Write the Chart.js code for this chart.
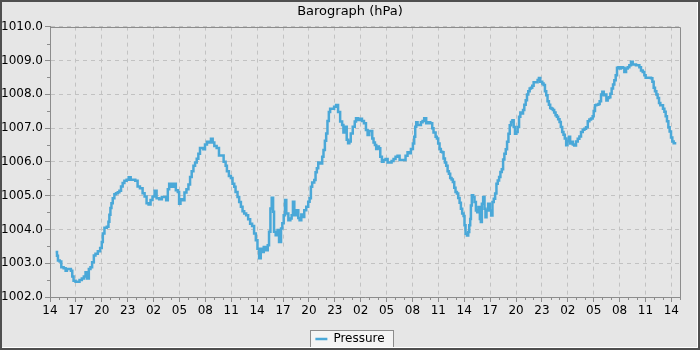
<!DOCTYPE html>
<html>
<head>
<meta charset="utf-8">
<script src="https://cdn.jsdelivr.net/npm/chart.js@4.4.1/dist/chart.umd.min.js"></script>
<style>
  html, body { margin: 0; padding: 0; background: #e6e6e6; }
  canvas { display: block; }
</style>
</head>
<body>
<canvas id="c" width="700" height="350"></canvas>
<script>
// ---------- data ----------
const chartTitle = 'Barograph (hPa)';
const seriesName = 'Pressure';
const xTickLabels = ['14','17','20','23','02','05','08','11','14','17','20','23','02','05','08','11','14','17','20','23','02','05','08','11','14'];
const xTickStepHours = 3;
const xRangeHours = [0, 73];
const yRange = [1002, 1010];

// hours since the first "14" tick
const hours = [
  0.65,0.81,0.92,1.12,1.31,1.58,1.81,1.96,2.19,2.42,2.58,2.73,2.96,3.23,3.42,3.69,3.92,4.12,4.27,4.50,
  4.69,4.88,5.08,5.27,5.54,5.81,6.00,6.12,6.31,6.58,6.77,6.88,7.00,7.12,7.27,7.46,7.65,7.85,8.04,8.23,
  8.42,8.62,8.88,9.12,9.35,9.58,9.88,10.15,10.42,10.73,10.96,11.19,11.42,11.65,11.88,12.12,12.35,12.65,12.96,13.27,
  13.46,13.65,13.81,14.04,14.31,14.58,14.81,14.96,15.12,15.35,15.58,15.81,16.04,16.23,16.42,16.62,16.81,17.00,17.19,17.38,
  17.58,17.77,17.96,18.19,18.42,18.65,18.85,19.04,19.31,19.58,19.88,20.12,20.35,20.50,20.73,20.96,21.15,21.35,21.50,21.73,
  21.92,22.12,22.31,22.50,22.73,22.96,23.19,23.42,23.65,23.85,24.04,24.23,24.42,24.58,24.77,25.00,25.23,25.38,25.54,25.69,
  25.85,25.96,26.15,26.38,26.54,26.77,26.92,27.08,27.23,27.38,27.62,27.85,28.00,28.15,28.31,28.54,28.77,28.92,29.12,29.31,
  29.46,29.69,29.92,30.08,30.23,30.38,30.62,30.77,30.92,31.08,31.31,31.54,31.69,31.85,32.00,32.15,32.31,32.46,32.69,32.92,
  33.15,33.38,33.62,33.85,34.00,34.15,34.38,34.54,34.69,34.85,35.08,35.31,35.46,35.69,35.92,36.15,36.38,36.61,36.80,37.00,
  37.19,37.34,37.49,37.65,37.80,37.96,38.11,38.27,38.46,38.65,38.88,39.12,39.35,39.58,39.81,40.04,40.27,40.51,40.74,40.97,
  41.20,41.43,41.66,41.82,42.05,42.20,42.32,42.44,42.59,42.82,42.98,43.17,43.36,43.59,43.83,44.06,44.29,44.44,44.68,44.83,
  44.98,45.14,45.29,45.45,45.60,45.76,45.91,46.07,46.22,46.37,46.53,46.68,46.84,46.99,47.15,47.30,47.46,47.61,47.76,47.92,
  48.03,48.15,48.31,48.46,48.58,48.69,48.77,48.88,49.04,49.19,49.35,49.50,49.65,49.81,49.92,50.04,50.19,50.35,50.46,50.58,
  50.77,50.96,51.12,51.27,51.42,51.58,51.73,51.88,52.04,52.19,52.35,52.50,52.65,52.81,52.96,53.12,53.27,53.42,53.58,53.73,
  53.88,54.04,54.19,54.35,54.50,54.65,54.81,54.96,55.12,55.27,55.42,55.58,55.73,55.88,56.04,56.27,56.50,56.65,56.81,57.04,
  57.19,57.35,57.50,57.65,57.81,57.96,58.12,58.27,58.42,58.58,58.73,58.88,59.04,59.19,59.35,59.50,59.65,59.81,59.96,60.12,
  60.27,60.42,60.58,60.75,60.95,61.15,61.34,61.53,61.73,61.92,62.11,62.31,62.50,62.69,62.88,63.00,63.15,63.31,63.54,63.69,
  63.85,64.00,64.16,64.31,64.47,64.62,64.78,64.93,65.08,65.24,65.39,65.55,65.70,65.86,66.01,66.17,66.36,66.55,66.75,66.94,
  67.13,67.32,67.52,67.71,67.90,68.09,68.29,68.48,68.68,68.87,69.02,69.18,69.41,69.64,69.80,69.95,70.10,70.26,70.41,70.57,
  70.72,70.88,71.03,71.19,71.34,71.49,71.65,71.80,71.96,72.11,72.27,72.42,72.57
];
const pressure = [
  1003.33,1003.22,1003.08,1003.05,1002.88,1002.85,1002.78,1002.83,1002.83,1002.78,1002.61,1002.48,1002.45,1002.45,1002.50,1002.55,1002.61,1002.73,1002.55,1002.83,
  1002.88,1003.03,1003.23,1003.28,1003.35,1003.45,1003.63,1003.88,1004.05,1004.08,1004.23,1004.43,1004.63,1004.77,1004.92,1005.04,1005.07,1005.10,1005.14,1005.27,
  1005.37,1005.44,1005.47,1005.54,1005.47,1005.47,1005.44,1005.27,1005.22,1005.07,1004.97,1004.77,1004.74,1004.87,1004.97,1005.14,1004.92,1004.89,1004.96,1004.96,
  1004.86,1005.19,1005.35,1005.26,1005.35,1005.16,1005.11,1004.76,1004.89,1004.86,1005.09,1005.19,1005.33,1005.55,1005.72,1005.88,1005.98,1006.09,1006.24,1006.41,
  1006.41,1006.37,1006.51,1006.59,1006.57,1006.68,1006.57,1006.47,1006.41,1006.19,1006.19,1006.00,1005.88,1005.72,1005.58,1005.52,1005.35,1005.26,1005.11,1004.96,
  1004.81,1004.67,1004.54,1004.47,1004.42,1004.30,1004.17,1004.10,1003.88,1003.68,1003.43,1003.15,1003.43,1003.33,1003.48,1003.38,1003.53,1003.93,1004.62,1004.94,
  1004.52,1003.93,1003.83,1003.98,1003.63,1004.03,1004.18,1004.42,1004.87,1004.47,1004.27,1004.32,1004.42,1004.82,1004.42,1004.57,1004.34,1004.27,1004.44,1004.37,
  1004.57,1004.67,1004.82,1004.92,1005.26,1005.39,1005.46,1005.69,1005.81,1005.98,1005.95,1006.15,1006.35,1006.62,1006.84,1007.21,1007.47,1007.57,1007.57,1007.63,
  1007.68,1007.47,1007.19,1007.09,1006.87,1007.04,1006.65,1006.55,1006.60,1006.84,1007.04,1007.19,1007.29,1007.24,1007.27,1007.21,1007.14,1006.94,1006.79,1006.91,
  1006.91,1006.69,1006.57,1006.50,1006.38,1006.45,1006.40,1006.15,1006.00,1006.05,1006.08,1005.98,1005.98,1006.02,1006.08,1006.15,1006.18,1006.05,1006.05,1006.05,
  1006.18,1006.28,1006.25,1006.38,1006.54,1006.74,1007.04,1007.17,1007.09,1007.09,1007.17,1007.21,1007.29,1007.14,1007.17,1007.14,1006.99,1006.87,1006.74,1006.69,
  1006.54,1006.38,1006.30,1006.28,1006.10,1005.98,1005.88,1005.72,1005.65,1005.52,1005.48,1005.40,1005.23,1005.11,1005.06,1004.93,1004.79,1004.61,1004.47,1004.40,
  1004.12,1003.87,1003.82,1003.92,1004.12,1004.31,1004.71,1005.01,1004.96,1004.81,1004.56,1004.51,1004.66,1004.31,1004.22,1004.76,1004.96,1004.61,1004.36,1004.56,
  1004.76,1004.56,1004.41,1004.81,1004.91,1005.06,1005.35,1005.45,1005.55,1005.70,1005.78,1006.07,1006.24,1006.37,1006.59,1006.83,1007.08,1007.18,1007.23,1007.03,
  1006.83,1006.88,1007.03,1007.33,1007.46,1007.43,1007.53,1007.69,1007.82,1007.99,1008.09,1008.17,1008.19,1008.25,1008.35,1008.35,1008.42,1008.48,1008.37,1008.32,
  1008.27,1008.09,1007.97,1007.79,1007.69,1007.59,1007.57,1007.53,1007.46,1007.38,1007.33,1007.26,1007.18,1007.03,1006.88,1006.80,1006.69,1006.49,1006.61,1006.74,
  1006.54,1006.59,1006.51,1006.48,1006.60,1006.68,1006.75,1006.88,1006.95,1006.98,1007.02,1007.20,1007.25,1007.28,1007.35,1007.50,1007.67,1007.69,1007.71,1007.79,
  1007.99,1008.07,1007.97,1007.99,1007.81,1007.89,1007.91,1008.01,1008.17,1008.29,1008.41,1008.56,1008.78,1008.80,1008.76,1008.80,1008.78,1008.66,1008.76,1008.80,
  1008.86,1008.96,1008.88,1008.88,1008.86,1008.86,1008.80,1008.70,1008.66,1008.56,1008.49,1008.49,1008.49,1008.47,1008.37,1008.19,1008.09,1007.99,1007.89,1007.74,
  1007.67,1007.67,1007.57,1007.48,1007.35,1007.20,1007.02,1006.90,1006.72,1006.60,1006.55,1006.55,1006.55
];

// ---------- styles ----------
const LINE_COLOR = '#4aa8d8';
const GRID_COLOR = '#c2c2c2';
const AXIS_COLOR = '#8c8c8c';
const FONT = 'DejaVu Sans';

const decorPlugin = {
  id: 'decor',
  beforeDraw(chart) {
    const ctx = chart.ctx;
    ctx.save();
    ctx.fillStyle = '#e6e6e6';
    ctx.fillRect(0, 0, chart.width, chart.height);
    const lg = chart.legend;
    if (lg && lg.legendHitBoxes && lg.legendHitBoxes.length) {
      const hb = lg.legendHitBoxes[0];
      const x0 = Math.round(hb.left - 5) + 0.5;
      const x1 = Math.round(hb.left + hb.width + 8) + 0.5;
      const yc = hb.top + hb.height / 2;
      const y0 = Math.round(yc - 9) + 0.5;
      ctx.fillStyle = '#f4f4f4';
      ctx.fillRect(x0, y0, x1 - x0, 18);
      ctx.strokeStyle = '#8c8c8c';
      ctx.lineWidth = 1;
      ctx.strokeRect(x0, y0, x1 - x0, 18);
    }
    ctx.restore();
  },
  afterDraw(chart) {
    const { ctx, chartArea: a } = chart;
    const xs = chart.scales.x, ys = chart.scales.y;
    ctx.save();
    ctx.strokeStyle = AXIS_COLOR;
    ctx.lineWidth = 1;
    // top and right of plot frame
    ctx.beginPath();
    ctx.moveTo(Math.round(a.left), Math.round(a.top) + 0.5);
    ctx.lineTo(Math.round(a.right) + 0.5, Math.round(a.top) + 0.5);
    ctx.lineTo(Math.round(a.right) + 0.5, Math.round(a.bottom));
    ctx.stroke();
    // minor ticks
    ctx.beginPath();
    for (let h = Math.ceil(xs.min); h <= xs.max; h++) {
      if (h % xTickStepHours === 0) continue;
      const px = Math.round(xs.getPixelForValue(h)) + 0.5;
      ctx.moveTo(px, Math.round(a.bottom));
      ctx.lineTo(px, Math.round(a.bottom) + 3);
    }
    for (let v = ys.min + 0.5; v < ys.max; v += 1) {
      const py = Math.round(ys.getPixelForValue(v)) + 0.5;
      ctx.moveTo(Math.round(a.left), py);
      ctx.lineTo(Math.round(a.left) - 3, py);
    }
    ctx.stroke();
    // outer frame
    ctx.strokeStyle = '#4f4f4f';
    ctx.lineWidth = 2;
    ctx.strokeRect(1, 1, chart.width - 2, chart.height - 2);
    ctx.strokeStyle = '#ffffff';
    ctx.lineWidth = 1;
    ctx.beginPath();
    ctx.moveTo(2, chart.height - 2.5);
    ctx.lineTo(chart.width - 2.5, chart.height - 2.5);
    ctx.lineTo(chart.width - 2.5, 2);
    ctx.stroke();
    ctx.restore();
  }
};

const points = hours.map((h, i) => ({ x: h, y: pressure[i] }));

new Chart(document.getElementById('c'), {
  type: 'line',
  data: {
    datasets: [{
      label: seriesName,
      data: points,
      borderColor: LINE_COLOR,
      backgroundColor: LINE_COLOR,
      borderWidth: 2.5,
      pointRadius: 0,
      stepped: true,
      fill: false
    }]
  },
  plugins: [decorPlugin],
  options: {
    responsive: false,
    devicePixelRatio: 1,
    animation: false,
    layout: { padding: { left: 0, right: 0, top: 0, bottom: 0 } },
    plugins: {
      title: {
        display: true,
        text: chartTitle,
        color: '#000',
        font: { family: FONT, size: 13, weight: 'normal' },
        padding: { top: 4, bottom: 7 }
      },
      legend: {
        display: true,
        position: 'bottom',
        maxHeight: 22,
        labels: {
          color: '#000',
          font: { family: FONT, size: 12 },
          usePointStyle: true,
          pointStyle: 'line',
          pointStyleWidth: 12,
          padding: 5
        }
      },
      tooltip: { enabled: false }
    },
    scales: {
      x: {
        type: 'linear',
        min: xRangeHours[0],
        max: xRangeHours[1],
        afterBuildTicks: (s) => { s.ticks = xTickLabels.map((_, i) => ({ value: i * xTickStepHours })); },
        afterFit: (s) => { s.height = 31; },
        ticks: {
          autoSkip: false,
          maxRotation: 0,
          color: '#000',
          padding: 2,
          font: { family: FONT, size: 12 },
          callback: (v, i) => xTickLabels[i]
        },
        grid: { color: GRID_COLOR, lineWidth: 1, tickColor: AXIS_COLOR, tickLength: 5 },
        border: { color: AXIS_COLOR, width: 1, dash: [4, 4] }
      },
      y: {
        min: yRange[0],
        max: yRange[1],
        afterFit: (s) => { s.width = 50; },
        ticks: {
          stepSize: 1,
          color: '#000',
          padding: 2,
          font: { family: FONT, size: 12 },
          callback: (v) => Number(v).toFixed(1)
        },
        grid: { color: GRID_COLOR, lineWidth: 1, tickColor: AXIS_COLOR, tickLength: 5 },
        border: { color: AXIS_COLOR, width: 1, dash: [4, 4] }
      },
      yRightSpace: {
        position: 'right',
        display: true,
        afterFit: (s) => { s.width = 20; },
        ticks: { display: false },
        grid: { display: false, drawOnChartArea: false, drawTicks: false },
        border: { display: false }
      }
    }
  }
});
</script>
</body>
</html>
